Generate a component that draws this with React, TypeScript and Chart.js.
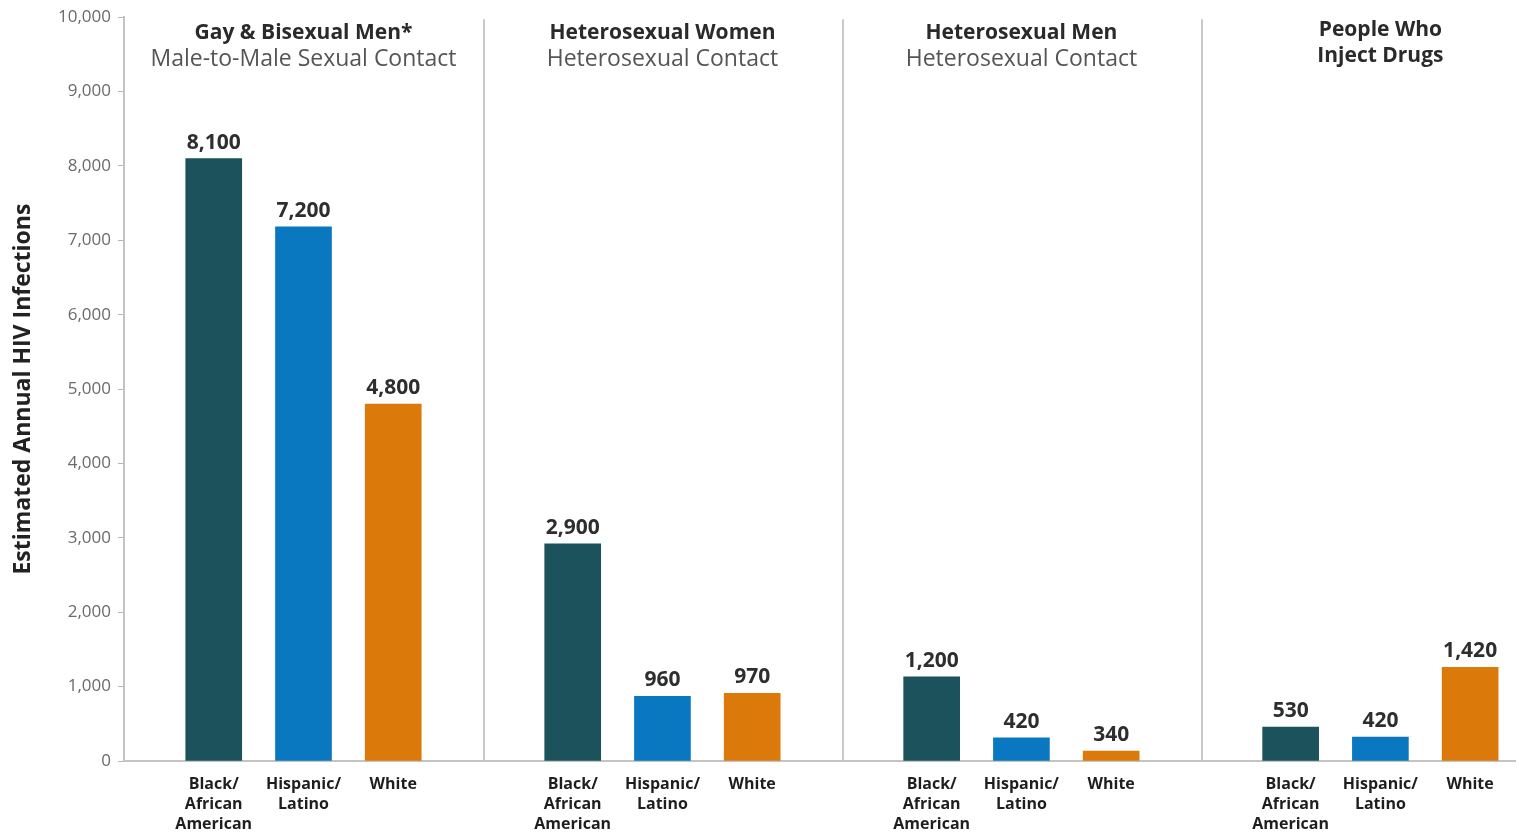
import React, { useEffect, useRef } from "react";
import { Chart, registerables } from "chart.js";

Chart.register(...registerables);

// ---- data ----
const groupTitles: string[][] = [
  ["Gay & Bisexual Men*"],
  ["Heterosexual Women"],
  ["Heterosexual Men"],
  ["People Who", "Inject Drugs"],
];
const groupSubtitles: string[] = [
  "Male-to-Male Sexual Contact",
  "Heterosexual Contact",
  "Heterosexual Contact",
  "",
];
const raceLabels: string[][] = [
  ["Black/", "African", "American"],
  ["Hispanic/", "Latino"],
  ["White"],
];
// bar heights as drawn in the picture
const blackValues = [8100, 2920, 1130, 455];
const hispanicValues = [7180, 870, 310, 320];
const whiteValues = [4800, 910, 135, 1260];
// value labels printed above the bars
const blackLabels = ["8,100", "2,900", "1,200", "530"];
const hispanicLabels = ["7,200", "960", "420", "420"];
const whiteLabels = ["4,800", "970", "340", "1,420"];
const yTicks = [0, 1000, 2000, 3000, 4000, 5000, 6000, 7000, 8000, 9000, 10000];

const raceColors = ["#1b525b", "#0a78c0", "#db790b"];
const FONT = "'Open Sans', 'DejaVu Sans', sans-serif";

export default function App() {
  const ref = useRef<HTMLCanvasElement | null>(null);

  useEffect(() => {
    document.body.style.margin = "0";
    const canvas = ref.current;
    if (!canvas) return;

    const seriesValues = [blackValues, hispanicValues, whiteValues];
    const seriesLabels = [blackLabels, hispanicLabels, whiteLabels];
    const points: { x: number; y: number }[] = [];
    const colors: string[] = [];
    const valueText: string[] = [];
    const slotLabel: Record<number, string[]> = {};
    for (let g = 0; g < groupTitles.length; g++) {
      for (let r = 0; r < 3; r++) {
        const x = g * 4 + r;
        points.push({ x, y: seriesValues[r][g] });
        colors.push(raceColors[r]);
        valueText.push(seriesLabels[r][g]);
        slotLabel[x] = raceLabels[r];
      }
    }
    const slots = points.map((p) => p.x);

    const overlay = {
      id: "overlay",
      afterDatasetsDraw(chart: any) {
        const { ctx, chartArea, scales } = chart;
        const xs = scales.x;
        ctx.save();
        // separators
        ctx.strokeStyle = "#c9c9c9";
        ctx.lineWidth = 2;
        for (let g = 1; g < groupTitles.length; g++) {
          const px = Math.round(xs.getPixelForValue(g * 4 - 1)) + 1;
          ctx.beginPath();
          ctx.moveTo(px, chartArea.top + 2);
          ctx.lineTo(px, chartArea.bottom);
          ctx.stroke();
        }
        // group titles
        ctx.textAlign = "center";
        ctx.textBaseline = "middle";
        for (let g = 0; g < groupTitles.length; g++) {
          const cx = xs.getPixelForValue(g * 4 + 1);
          const lines = groupTitles[g];
          const startY = lines.length > 1 ? 30 : 33;
          ctx.fillStyle = "#2a2a2a";
          ctx.font = `bold 21px ${FONT}`;
          lines.forEach((l, i) => ctx.fillText(l, cx, startY + i * 26));
          if (groupSubtitles[g]) {
            ctx.fillStyle = "#555555";
            ctx.font = `23px ${FONT}`;
            ctx.fillText(groupSubtitles[g], cx, 59);
          }
        }
        // value labels
        const meta = chart.getDatasetMeta(0);
        ctx.fillStyle = "#2e2e2e";
        ctx.font = `bold 21px ${FONT}`;
        ctx.textBaseline = "alphabetic";
        meta.data.forEach((bar: any, i: number) => {
          ctx.fillText(valueText[i], bar.x, bar.y - 10);
        });
        ctx.restore();
      },
    };

    const chart = new Chart(canvas, {
      type: "bar",
      data: {
        datasets: [
          {
            data: points,
            backgroundColor: colors,
            borderWidth: 0,
            barThickness: 56,
          } as any,
        ],
      },
      options: {
        responsive: false,
        animation: false,
        layout: { padding: { top: 16, right: 4, left: 0, bottom: 0 } },
        plugins: {
          legend: { display: false },
          tooltip: { enabled: false },
        },
        scales: {
          x: {
            type: "linear",
            min: -1,
            max: 14.5,
            offset: false,
            grid: { display: false, offset: false },
            border: { display: true, color: "#c4c4c4", width: 2 },
            afterBuildTicks: (axis: any) => {
              axis.ticks = slots.map((v) => ({ value: v }));
            },
            afterFit: (axis: any) => {
              axis.height = 71;
            },
            ticks: {
              autoSkip: false,
              maxRotation: 0,
              minRotation: 0,
              padding: 5,
              color: "#1e1e1e",
              font: { family: FONT, size: 16, weight: "bold", lineHeight: 1.25 },
              callback: (value: any) => slotLabel[Number(value)] || "",
            },
          },
          y: {
            min: 0,
            max: 10000,
            afterBuildTicks: (axis: any) => {
              axis.ticks = yTicks.map((v) => ({ value: v }));
            },
            afterFit: (axis: any) => {
              axis.width = 124;
            },
            grid: {
              display: true,
              drawOnChartArea: false,
              drawTicks: true,
              tickLength: 6,
              color: "#b5b5b5",
            },
            border: { display: true, color: "#c4c4c4", width: 2 },
            ticks: {
              padding: 7,
              color: "#6a6a6a",
              font: { family: FONT, size: 17 },
              callback: (value: any) => Number(value).toLocaleString("en-US"),
            },
            title: {
              display: true,
              text: "Estimated Annual HIV Infections",
              color: "#222222",
              font: { family: FONT, size: 23, weight: "bold", lineHeight: 1.2 },
              padding: { top: 10, bottom: 0 },
            },
          },
        },
      },
      plugins: [overlay],
    });

    return () => chart.destroy();
  }, []);

  return (
    <div style={{ width: 1519, height: 832, background: "#ffffff" }}>
      <canvas ref={ref} width={1519} height={832} style={{ display: "block" }} />
    </div>
  );
}
